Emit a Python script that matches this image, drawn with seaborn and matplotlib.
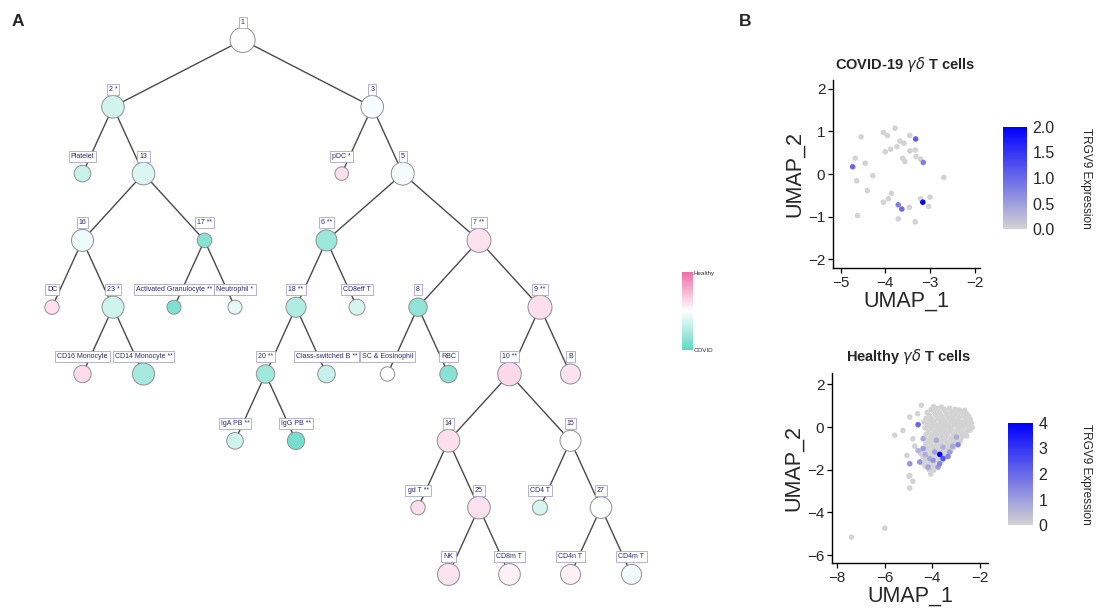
import numpy as np
import pandas as pd
import seaborn as sns
import matplotlib.pyplot as plt
from matplotlib import font_manager
from matplotlib.colors import LinearSegmentedColormap, Normalize
from matplotlib.cm import ScalarMappable

# ---------------- Panel A: cluster tree ----------------
node_names = ['1', '2', '3', 'Platelet', '13', 'pDC', '5', '16', '17', '6', '7',
              'DC', '23', 'Activated Granulocyte', 'Neutrophil', '18', 'CD8eff T',
              '8', '9', 'CD16 Monocyte', 'CD14 Monocyte', '20', 'Class-switched B',
              'SC & Eosinophil', 'RBC', '10', 'B', 'IgA PB', 'IgG PB', '14', '15',
              'gd T', '25', 'CD4 T', '27', 'NK', 'CD8m T', 'CD4n T', 'CD4m T']
node_stars = ['', '*', '', '', '', '*', '', '', '**', '**', '**',
              '', '*', '**', '*', '**', '',
              '', '**', '', '**', '**', '**',
              '', '', '**', '', '**', '**', '', '',
              '**', '', '', '', '', '', '', '']
# enrichment score: -1 = COVID, +1 = Healthy
node_score = [0.0, -0.28, -0.06, -0.35, -0.22, 0.22, -0.07, -0.12, -0.75, -0.62, 0.2,
              0.2, -0.3, -0.8, -0.15, -0.5, -0.25,
              -0.7, 0.22, 0.24, -0.55, -0.6, -0.35,
              0.0, -0.75, 0.26, 0.2, -0.3, -0.85, 0.22, 0.0,
              0.22, 0.2, -0.25, 0.0, 0.18, 0.1, 0.1, -0.08]
# relative cluster size (node radius)
node_size = [12.5, 11.3, 11.3, 8.3, 11.3, 6.8, 11.5, 11, 7.3, 10.5, 12,
             7.2, 11, 7, 7, 10, 8,
             9.2, 12, 8.7, 11, 9.2, 8.8,
             7.2, 8.7, 11.8, 10, 8.3, 8.7, 11.3, 10.5,
             7.2, 11.3, 7.5, 10.8, 11, 10.8, 10, 10]

edge_parent = ['1', '1', '2', '2', '13', '13', '16', '16', '23', '23', '17', '17',
               '3', '3', '5', '5', '6', '6', '18', '18', '20', '20', '7', '7',
               '8', '8', '9', '9', '10', '10', '14', '14', '25', '25', '15', '15',
               '27', '27']
edge_child = ['2', '3', 'Platelet', '13', '16', '17', 'DC', '23', 'CD16 Monocyte',
              'CD14 Monocyte', 'Activated Granulocyte', 'Neutrophil', 'pDC', '5',
              '6', '7', '18', 'CD8eff T', '20', 'Class-switched B', 'IgA PB', 'IgG PB',
              '8', '9', 'SC & Eosinophil', 'RBC', '10', 'B', '14', '15', 'gd T', '25',
              'NK', 'CD8m T', 'CD4 T', '27', 'CD4n T', 'CD4m T']

# ---------------- Panel B: UMAP of gd T cells ----------------
covid_x = [-4.54, -4.04, -3.95, -3.78, -3.45, -3.32, -3.67, -3.58, -3.74, -3.88,
           -4.00, -3.45, -3.33, -3.31, -3.21, -3.15, -3.61, -3.56, -4.67, -4.73,
           -4.45, -4.28, -4.64, -4.40, -3.86, -3.93, -4.04, -3.71, -3.63, -3.46,
           -3.16, -3.21, -3.00, -3.03, -2.69, -4.62, -3.71, -3.33]
covid_y = [0.87, 0.97, 0.90, 1.07, 0.90, 0.82, 0.77, 0.72, 0.64, 0.58,
           0.52, 0.54, 0.56, 0.41, 0.35, 0.27, 0.37, 0.29, 0.37, 0.17,
           0.25, -0.04, -0.16, -0.39, -0.45, -0.58, -0.66, -0.72, -0.82, -0.78,
           -0.66, -0.58, -0.54, -0.76, -0.08, -0.97, -1.05, -1.12]
covid_trgv9 = [0, 0, 0, 0, 0, 1.1, 0, 0, 0, 0,
               0, 0, 0, 0, 0, 0.8, 0, 0, 0, 1.0,
               0, 0, 0, 0, 0, 0, 0, 0.8, 1.0, 0,
               2.0, 0, 0, 0, 0, 0, 0, 0]

healthy_grey = [
    (-4.46, 1.02), (-3.95, 0.96), (-3.62, 0.93), (-2.64, 0.78),
    (-4.05, 0.82), (-3.80, 0.87), (-3.50, 0.84), (-3.28, 0.88), (-3.05, 0.83), (-2.86, 0.80),
    (-4.22, 0.68), (-3.93, 0.72), (-3.70, 0.69), (-3.46, 0.73), (-3.22, 0.70), (-3.01, 0.67), (-2.78, 0.71), (-2.56, 0.62),
    (-4.11, 0.53), (-3.86, 0.57), (-3.63, 0.54), (-3.40, 0.58), (-3.16, 0.52), (-2.95, 0.56), (-2.71, 0.53), (-2.48, 0.50),
    (-4.26, 0.41), (-4.02, 0.38), (-3.78, 0.42), (-3.55, 0.39), (-3.33, 0.43), (-3.10, 0.37), (-2.88, 0.41), (-2.63, 0.38), (-2.41, 0.36),
    (-4.36, 0.24), (-4.13, 0.27), (-3.90, 0.23), (-3.67, 0.26), (-3.45, 0.22), (-3.23, 0.27), (-3.00, 0.24), (-2.78, 0.22), (-2.55, 0.26), (-2.36, 0.20),
    (-4.21, 0.09), (-3.98, 0.12), (-3.75, 0.08), (-3.52, 0.11), (-3.30, 0.07), (-3.08, 0.12), (-2.85, 0.09), (-2.62, 0.11), (-2.40, 0.06),
    (-4.31, -0.04), (-4.08, -0.07), (-3.85, -0.03), (-3.62, -0.06), (-3.40, -0.02), (-3.18, -0.07), (-2.95, -0.05), (-2.72, -0.03), (-2.50, -0.08), (-2.33, -0.02),
    (-4.16, -0.19), (-3.92, -0.22), (-3.70, -0.18), (-3.48, -0.21), (-3.25, -0.17), (-3.02, -0.22), (-2.80, -0.19), (-2.58, -0.23), (-2.42, -0.16),
    (-4.26, -0.34), (-4.02, -0.37), (-3.80, -0.33), (-3.58, -0.36), (-3.35, -0.32), (-3.12, -0.37), (-2.90, -0.34), (-2.68, -0.36), (-2.55, -0.42),
    (-4.32, -0.49), (-4.10, -0.52), (-3.88, -0.48), (-3.65, -0.51), (-3.42, -0.47), (-3.20, -0.52), (-2.98, -0.50), (-2.76, -0.48),
    (-4.18, -0.67), (-3.95, -0.63), (-3.72, -0.66), (-3.50, -0.62), (-3.28, -0.67), (-3.05, -0.64), (-2.83, -0.66),
    (-4.28, -0.79), (-4.05, -0.82), (-3.82, -0.78), (-3.60, -0.81), (-3.38, -0.77), (-3.15, -0.82),
    (-4.20, -0.97), (-3.98, -0.93), (-3.75, -0.96), (-3.52, -0.92), (-3.30, -0.97), (-3.10, -0.95),
    (-4.35, -1.09), (-4.12, -1.12), (-3.90, -1.08), (-3.68, -1.11), (-3.45, -1.07), (-3.22, -1.12),
    (-4.50, -1.24), (-4.25, -1.27), (-4.02, -1.23), (-3.80, -1.26), (-3.55, -1.22), (-3.35, -1.27),
    (-4.38, -1.39), (-4.15, -1.42), (-3.92, -1.38), (-3.70, -1.41), (-3.48, -1.37),
    (-4.28, -1.54), (-4.05, -1.57), (-3.82, -1.53), (-3.60, -1.56),
    (-4.40, -1.69), (-4.18, -1.72), (-3.95, -1.68),
    (-4.30, -1.84), (-4.05, -1.87), (-3.85, -1.83),
    (-4.15, -1.99), (-3.95, -2.02), (-4.07, -2.20),
    (-5.58, -0.39), (-5.24, -0.16), (-4.95, 0.47), (-4.62, 0.62), (-4.74, -0.90),
    (-4.82, -0.55), (-5.07, -1.33), (-4.95, -2.27), (-4.98, -2.31), (-4.82, -2.54),
    (-4.95, -2.86), (-6.00, -4.74), (-7.40, -5.16),
]
healthy_blue = [
    (-4.60, 0.11, 2.0), (-3.69, -1.28, 4.0), (-3.55, -1.48, 2.4), (-2.92, -0.83, 1.5),
    (-3.97, -1.56, 1.2), (-4.39, -1.01, 1.0), (-4.95, -1.72, 1.2), (-4.53, -1.64, 1.2),
    (-3.69, -1.72, 1.5), (-4.39, -0.55, 0.8), (-3.83, -0.62, 0.8), (-3.34, -1.38, 1.5),
    (-3.90, -1.17, 1.0), (-4.11, -1.48, 0.8), (-4.18, -1.88, 0.9), (-3.76, -1.88, 1.1),
    (-2.99, -0.47, 0.7), (-3.55, -0.95, 0.7), (-4.30, -1.30, 0.7), (-4.60, -1.10, 0.6),
    (-3.15, -0.90, 0.8), (-3.27, -1.17, 1.0),
]

sns.set_theme(style='ticks')
plt.rcParams['font.family'] = ['Liberation Sans', 'DejaVu Sans']

# node labels in the reference use a condensed face
installed = {f.name for f in font_manager.fontManager.ttflist}
if 'Liberation Sans Narrow' in installed:
    label_font, label_size = 'Liberation Sans Narrow', 6.0
else:
    label_font, label_size = 'Liberation Sans', 5.0

W, H = 1096, 610
fig = plt.figure(figsize=(W / 100, H / 100), dpi=100)


def fx(px):
    return px / W


def fy(py):
    return 1 - py / H


# ---- tree layout (tidy tree: siblings two half-units apart) ----
children = {}
for p, c in zip(edge_parent, edge_child):
    children.setdefault(p, []).append(c)


def tidy(node):
    kids = children.get(node, [])
    if not kids:
        return {node: 0.0}, [(0.0, 0.0)]
    pos_l, cont_l = tidy(kids[0])
    pos_r, cont_r = tidy(kids[1])
    gap = max(a[1] - b[0] for a, b in zip(cont_l, cont_r)) + 2.0
    pos = dict(pos_l)
    pos.update({k: v + gap for k, v in pos_r.items()})
    cont = []
    for i in range(max(len(cont_l), len(cont_r))):
        lo, hi = [], []
        if i < len(cont_l):
            lo.append(cont_l[i][0]); hi.append(cont_l[i][1])
        if i < len(cont_r):
            lo.append(cont_r[i][0] + gap); hi.append(cont_r[i][1] + gap)
        cont.append((min(lo), max(hi)))
    mid = gap / 2
    pos = {k: v - mid for k, v in pos.items()}
    pos[node] = 0.0
    cont = [(0.0, 0.0)] + [(a - mid, b - mid) for a, b in cont]
    return pos, cont


pos, _ = tidy('1')
xmin = min(pos.values())
pos = {k: v - xmin for k, v in pos.items()}
depth = {'1': 0}
for p, c in zip(edge_parent, edge_child):
    depth[c] = depth[p] + 1

tree = pd.DataFrame({'name': node_names, 'stars': node_stars,
                     'score': node_score, 'size': node_size})
tree['u'] = tree['name'].map(pos)
tree['d'] = tree['name'].map(depth)
tree['label'] = (tree['name'] + ' ' + tree['stars']).str.strip()

tree_cmap = LinearSegmentedColormap.from_list('covid_healthy', ['#5fd8c4', '#ffffff', '#ee6ea8'])
tree_norm = Normalize(-1, 1)

# pixel scale of tree: 30.5 px per half unit, 66.8 px per level
ax_a = fig.add_axes([0, 0, fx(760), 1])
ax_a.set_xlim(-52 / 30.5, (760 - 52) / 30.5)
ax_a.set_ylim((H - 40) / 66.8, -40 / 66.8)
ax_a.axis('off')

for p, c in zip(edge_parent, edge_child):
    ax_a.plot([pos[p], pos[c]], [depth[p], depth[c]], color='#4a4a4a', lw=1.0, zorder=1)

ax_a.scatter(tree['u'], tree['d'], s=(1.44 * tree['size']) ** 2, c=tree['score'],
             cmap=tree_cmap, norm=tree_norm, edgecolors='#8f8f8f', linewidths=0.7, zorder=3)

for _, r in tree.iterrows():
    ax_a.text(r['u'], r['d'] - 0.262, r['label'], ha='center', va='center',
              fontsize=label_size, family=label_font, color='#28286e', zorder=4,
              bbox=dict(boxstyle='square,pad=0.3', fc='white', ec='#a6a6cf', lw=0.6))

cax_a = fig.add_axes([fx(682), fy(350), fx(11), 78 / H])
cb_a = fig.colorbar(ScalarMappable(tree_norm, tree_cmap), cax=cax_a)
cb_a.outline.set_visible(False)
cb_a.set_ticks([])
fig.text(fx(694), fy(274), 'Healthy', fontsize=4.5, va='center', ha='left', color='#333333')
fig.text(fx(694), fy(351), 'COVID', fontsize=4.5, va='center', ha='left', color='#333333')

fig.text(fx(18), fy(22), 'A', fontsize=12.5, fontweight='bold', ha='center', va='center')
fig.text(fx(745), fy(22), 'B', fontsize=12.5, fontweight='bold', ha='center', va='center')

# ---- panel B ----
feat_cmap = LinearSegmentedColormap.from_list('feat', ['#d3d3d3', '#0000ff'])

covid = pd.DataFrame({'UMAP_1': covid_x, 'UMAP_2': covid_y, 'TRGV9': covid_trgv9})
healthy = pd.concat([
    pd.DataFrame(healthy_grey, columns=['UMAP_1', 'UMAP_2']).assign(TRGV9=0.0),
    pd.DataFrame(healthy_blue, columns=['UMAP_1', 'UMAP_2', 'TRGV9']),
], ignore_index=True)

panels = [
    (covid, 'COVID-19 $\\gamma\\delta$ T cells', (833, 980, 80, 268), (-5.17, -1.88),
     (-2.2, 2.2), [-5, -4, -3, -2], [-2, -1, 0, 1, 2], 2.0,
     [0, 0.5, 1, 1.5, 2], ['0.0', '0.5', '1.0', '1.5', '2.0'], (1003, 1027, 127, 229), 65),
    (healthy, 'Healthy $\\gamma\\delta$ T cells', (832, 988, 373, 563), (-8.22, -1.66),
     (-6.37, 2.53), [-8, -6, -4, -2], [-6, -4, -2, 0, 2], 4.0,
     [0, 1, 2, 3, 4], ['0', '1', '2', '3', '4'], (1008, 1033, 423, 525), 356),
]

for (df, title, (l, r, t, b), xl, yl, xt, yt, vmax, ct, ctl, (cl, cr, ct_, cb_), ty) in panels:
    ax = fig.add_axes([fx(l), fy(b), fx(r - l), (b - t) / H])
    sns.scatterplot(data=df.sort_values('TRGV9'), x='UMAP_1', y='UMAP_2', hue='TRGV9',
                    palette=feat_cmap, hue_norm=(0, vmax), s=16, linewidth=0,
                    legend=False, ax=ax)
    ax.set_xlim(*xl)
    ax.set_ylim(*yl)
    ax.set_xticks(xt)
    ax.set_yticks(yt)
    ax.tick_params(labelsize=11, length=3.5, width=0.9, color='black', pad=2)
    for side in ['left', 'bottom']:
        ax.spines[side].set_linewidth(1.0)
        ax.spines[side].set_color('black')
    sns.despine(ax=ax)
    ax.set_xlabel('UMAP_1', fontsize=15.5, labelpad=1)
    ax.set_ylabel('UMAP_2', fontsize=15.5, labelpad=2)
    fig.text(fx((l + r) / 2 - 1), fy(ty), title, ha='center', va='center',
             fontsize=10.5, fontweight='bold')

    cax = fig.add_axes([fx(cl), fy(cb_), fx(cr - cl), (cb_ - ct_) / H])
    cbar = fig.colorbar(ScalarMappable(Normalize(0, vmax), feat_cmap), cax=cax)
    cbar.outline.set_visible(False)
    cbar.set_ticks(ct, labels=ctl)
    cbar.ax.tick_params(labelsize=11.5, length=4, width=0.8, color='white',
                        direction='in', pad=4)
    fig.text(fx(1086), fy((ct_ + cb_) / 2), 'TRGV9 Expression', rotation=270,
             ha='center', va='center', fontsize=8.5)

fig.savefig('out.png', dpi=100)
